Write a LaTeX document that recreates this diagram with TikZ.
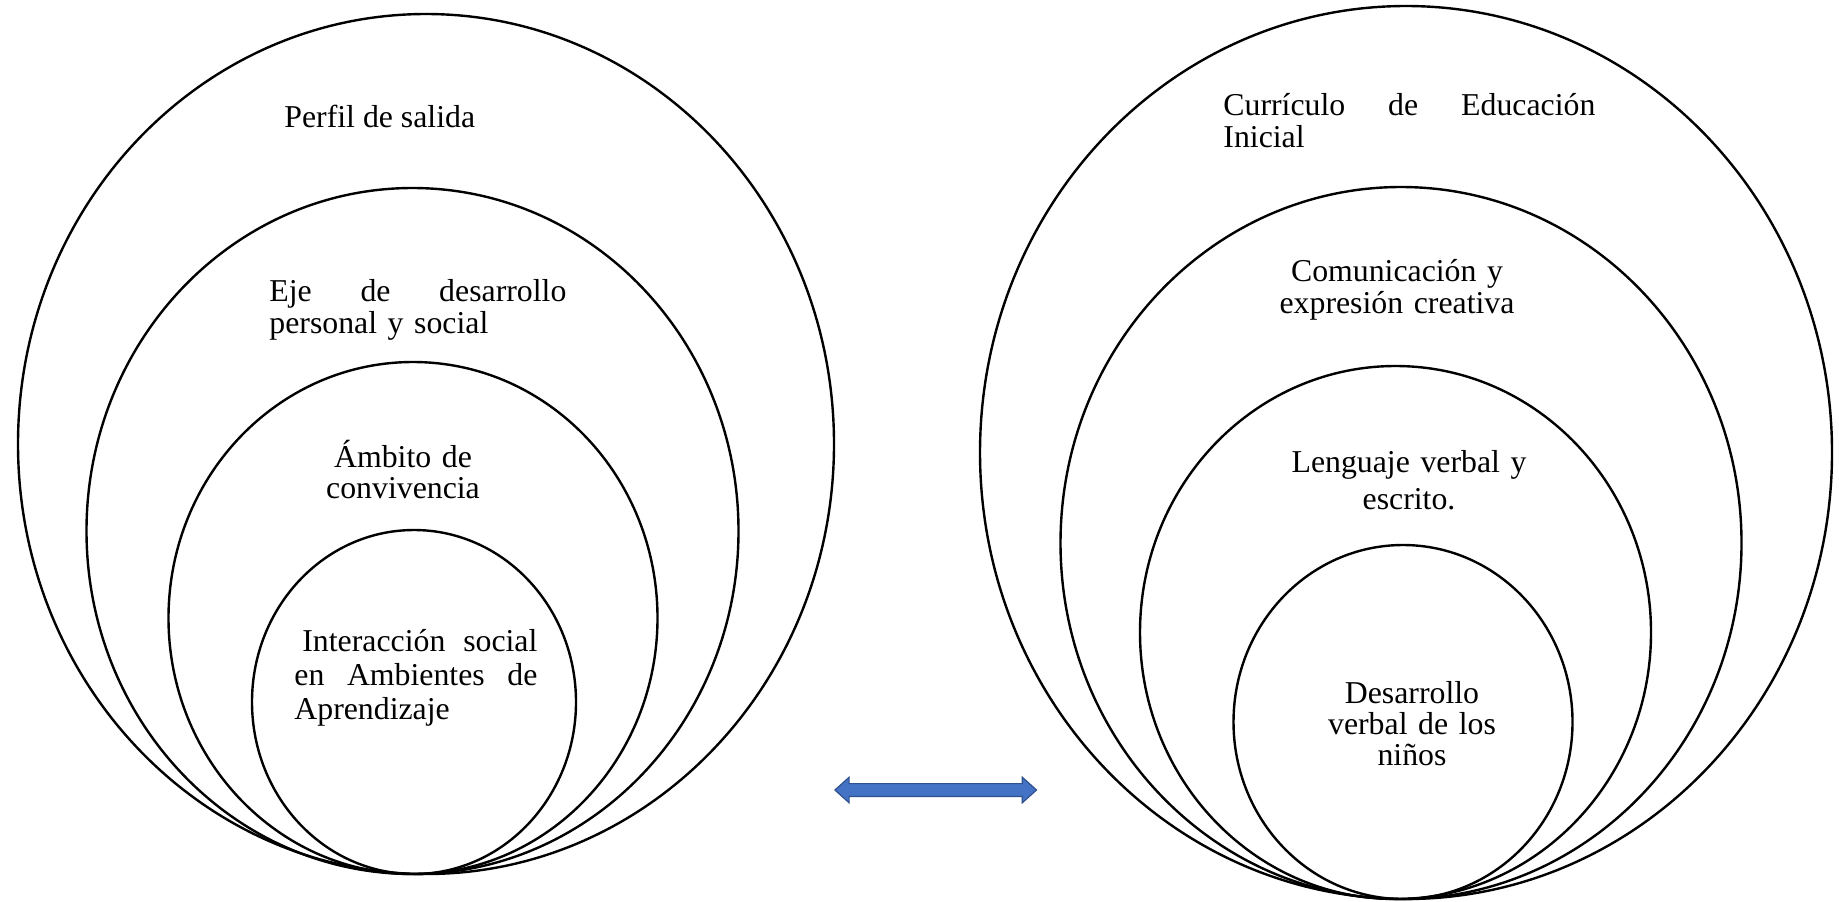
\documentclass[tikz,border=0pt]{standalone}
\usepackage{fontspec}
\setmainfont{Liberation Serif}
\usepackage{tikz}
\usetikzlibrary{shapes.arrows}
\definecolor{arrowfill}{HTML}{4472C4}
\definecolor{arrowline}{HTML}{2F528F}

\begin{document}
\begin{tikzpicture}[x=0.5pt, y=-0.5pt, ring/.style={line width=1.2pt},
	every node/.style={inner sep=0pt, font=\fontsize{15.9}{16}\selectfont},
	lefttext/.style={anchor=base west, align=left},
	midtext/.style={anchor=base, align=center, text width=#1}]
	\useasboundingbox (0,0) rectangle (1839,901);

	\draw[ring] (426,444) ellipse [x radius=408, y radius=430];
	\draw[ring] (412.5,531) ellipse [x radius=326, y radius=343];
	\draw[ring] (413,618) ellipse [x radius=244.5, y radius=256];
	\draw[ring] (414,702) ellipse [x radius=162, y radius=172];

	\draw[ring] (1406,452.5) ellipse [x radius=426, y radius=446.5];
	\draw[ring] (1401,543) ellipse [x radius=340.5, y radius=356];
	\draw[ring] (1395.5,632.5) ellipse [x radius=255.5, y radius=266.5];
	\draw[ring] (1403,722) ellipse [x radius=169.5, y radius=177];

	\node[lefttext](perfil) at (284,127) {Perfil de salida};
	\node[lefttext, text width=148.5pt](eje) at (269,301) {\makebox[148.5pt][s]{Eje\hfill de\hfill desarrollo}\\personal y social};
	\node[midtext=90pt, font=\fontsize{15.9}{15.5}\selectfont](ambito) at (403,467) {Ámbito de\\convivencia};
	\node[lefttext, text width=121.5pt, font=\fontsize{15.9}{17}\selectfont](interaccion) at (294,651) {\makebox[121.5pt][s]{\hspace*{4pt}Interacción\hfill social}\\\makebox[121.5pt][s]{en\hfill Ambientes\hfill de}\\Aprendizaje};

	\node[lefttext, text width=186pt, font=\fontsize{15.9}{15.75}\selectfont](curriculo) at (1223,115.5) {\makebox[186pt][s]{Currículo\hfill de\hfill Educación}\\Inicial};
	\node[midtext=130pt](comunicacion) at (1397,281) {Comunicación y\\expresión creativa};
	\node[midtext=130pt, font=\fontsize{15.9}{18.5}\selectfont](lenguaje) at (1409,472) {Lenguaje verbal y\\escrito.};
	\node[midtext=100pt, font=\fontsize{15.9}{15.5}\selectfont](desarrollo) at (1412,703) {Desarrollo\\verbal de los\\niños};

	\node[double arrow, fill=arrowfill, draw=arrowline, line width=0.6pt, minimum height=100.8pt, minimum width=12.3pt,
		inner xsep=0pt, inner ysep=2.9pt, double arrow head extend=3.2pt, double arrow tip angle=84](link) at (935.7,790) {};
\end{tikzpicture}
\end{document}
